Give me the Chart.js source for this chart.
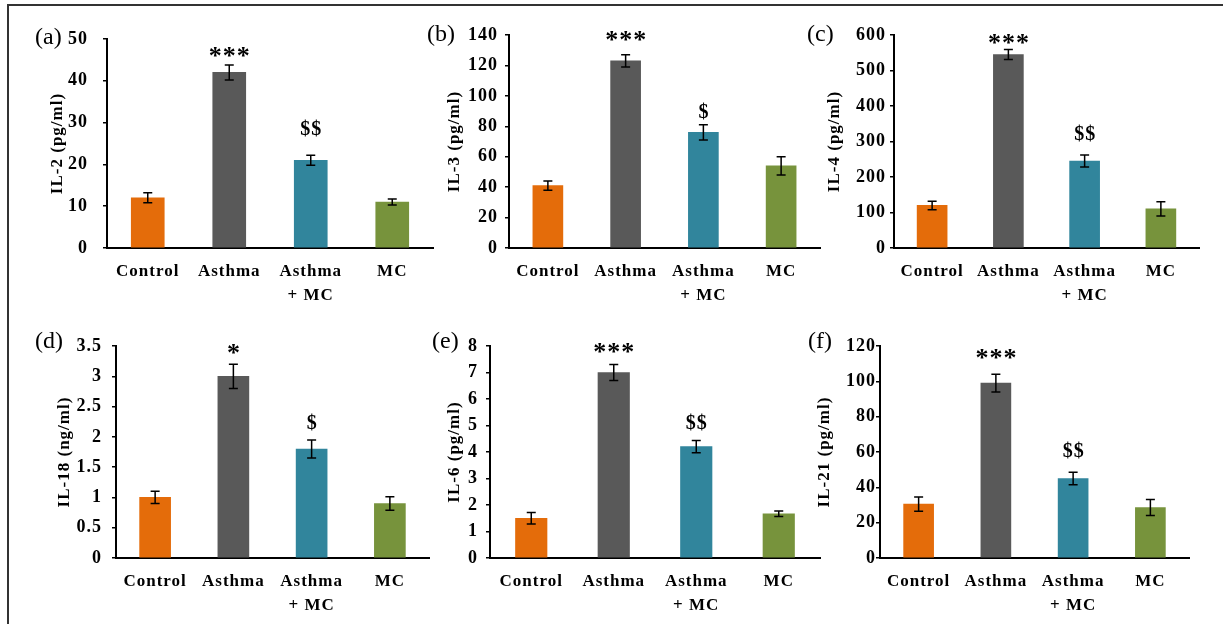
<!DOCTYPE html>
<html>
<head>
<meta charset="utf-8">
<script src="https://cdn.jsdelivr.net/npm/chart.js@4.4.1/dist/chart.umd.min.js"></script>
<style>
html,body{margin:0;padding:0;background:#fff;width:1223px;height:624px;overflow:hidden;position:relative;}
#frame{position:absolute;left:7px;top:4px;width:1240px;height:660px;border-top:2px solid #333;border-left:2px solid #333;}
canvas{position:absolute;}
.plabel{position:absolute;font-family:'Liberation Serif','Times New Roman',serif;font-size:24px;line-height:24px;color:#000;white-space:nowrap;}
</style>
</head>
<body>
<div id="frame"></div>
<script>
// ---- data ----
const categories = ['Control', 'Asthma', ['Asthma', '+ MC'], 'MC'];

const il2Values = [12, 42, 21, 11];
const il2Errors = [1.2, 1.8, 1.2, 0.7];
const il2Marks = ['', '***', '$$', ''];
const il2Ticks = ['0', '10', '20', '30', '40', '50'];

const il3Values = [41, 123, 76, 54];
const il3Errors = [3, 4, 5, 6];
const il3Marks = ['', '***', '$', ''];
const il3Ticks = ['0', '20', '40', '60', '80', '100', '120', '140'];

const il4Values = [120, 545, 245, 110];
const il4Errors = [12, 14, 17, 20];
const il4Marks = ['', '***', '$$', ''];
const il4Ticks = ['0', '100', '200', '300', '400', '500', '600'];

const il18Values = [1.0, 3.0, 1.8, 0.9];
const il18Errors = [0.1, 0.2, 0.15, 0.11];
const il18Marks = ['', '*', '$', ''];
const il18Ticks = ['0', '0.5', '1', '1.5', '2', '2.5', '3', '3.5'];

const il6Values = [1.5, 7.0, 4.2, 1.67];
const il6Errors = [0.22, 0.3, 0.23, 0.1];
const il6Marks = ['', '***', '$$', ''];
const il6Ticks = ['0', '1', '2', '3', '4', '5', '6', '7', '8'];

const il21Values = [30.5, 99, 45, 28.6];
const il21Errors = [4, 5, 3.6, 4.5];
const il21Marks = ['', '***', '$$', ''];
const il21Ticks = ['0', '20', '40', '60', '80', '100', '120'];

// ---- styles / layout ----
const barColors = ['#E46C0A', '#595959', '#31859C', '#77933C'];
const FONT = "'Liberation Serif', 'Times New Roman', serif";

const panels = [
  {label:'(a)', title:'IL-2 (pg/ml)', values:il2Values, errors:il2Errors, marks:il2Marks, ticks:il2Ticks, max:50, step:10,
   L:107, T:39, R:433, B:248, titleX:57, tickPad:15, bar:33, gaps:[0,13,27,0], lx:35, ly:23.5},
  {label:'(b)', title:'IL-3 (pg/ml)', values:il3Values, errors:il3Errors, marks:il3Marks, ticks:il3Ticks, max:140, step:20,
   L:509, T:35, R:820, B:248, titleX:454, tickPad:7, bar:30, gaps:[0,19,13,0], lx:427, ly:20.5},
  {label:'(c)', title:'IL-4 (pg/ml)', values:il4Values, errors:il4Errors, marks:il4Marks, ticks:il4Ticks, max:600, step:100,
   L:894, T:35, R:1199, B:248, titleX:834, tickPad:4, bar:30, gaps:[0,11,22,0], lx:807, ly:20.5},
  {label:'(d)', title:'IL-18 (ng/ml)', values:il18Values, errors:il18Errors, marks:il18Marks, ticks:il18Ticks, max:3.5, step:0.5,
   L:116, T:346, R:429, B:558, titleX:64, tickPad:10, bar:31, gaps:[0,16,17,0], lx:35, ly:327.5},
  {label:'(e)', title:'IL-6 (pg/ml)', values:il6Values, errors:il6Errors, marks:il6Marks, ticks:il6Ticks, max:8, step:1,
   L:490, T:346, R:820, B:558, titleX:454, tickPad:8, bar:31.5, gaps:[0,17,18,0], lx:432, ly:327.5},
  {label:'(f)', title:'IL-21 (pg/ml)', values:il21Values, errors:il21Errors, marks:il21Marks, ticks:il21Ticks, max:120, step:20,
   L:880, T:346, R:1189, B:558, titleX:824, tickPad:0, bar:30, gaps:[0,21,22,0], lx:808, ly:327.5}
];

const PAD_TOP = 40, PAD_RIGHT = 20, X_H = 70;

panels.forEach((p, idx) => {
  const cl = Math.round(p.titleX - 10.2);
  const ct = p.T - PAD_TOP;
  const w = p.R + PAD_RIGHT - cl;
  const h = (p.B - p.T) + PAD_TOP + X_H;
  const cv = document.createElement('canvas');
  cv.width = w; cv.height = h;
  cv.style.left = cl + 'px'; cv.style.top = ct + 'px';
  cv.style.width = w + 'px'; cv.style.height = h + 'px';
  document.body.appendChild(cv);

  const lab = document.createElement('div');
  lab.className = 'plabel';
  lab.textContent = p.label;
  lab.style.left = p.lx + 'px'; lab.style.top = p.ly + 'px';
  document.body.appendChild(lab);

  const extras = {
    id: 'extras' + idx,
    beforeLayout(chart) { chart.ctx.letterSpacing = '1px'; },
    beforeDraw(chart) { chart.ctx.letterSpacing = '1px'; },
    afterDatasetsDraw(chart) {
      const ctx = chart.ctx;
      const ys = chart.scales.y;
      const meta = chart.getDatasetMeta(0);
      ctx.save();
      ctx.strokeStyle = '#000';
      ctx.lineWidth = 1.5;
      meta.data.forEach((bar, i) => {
        const x = bar.x;
        const top = ys.getPixelForValue(p.values[i] + p.errors[i]);
        const bot = ys.getPixelForValue(p.values[i] - p.errors[i]);
        ctx.beginPath();
        ctx.moveTo(x, top); ctx.lineTo(x, bot);
        ctx.moveTo(x - 4.5, top); ctx.lineTo(x + 4.5, top);
        ctx.moveTo(x - 4.5, bot); ctx.lineTo(x + 4.5, bot);
        ctx.stroke();
        const m = p.marks[i];
        if (m) {
          const star = m[0] === '*';
          const size = star ? 26 : 20;
          ctx.font = 'bold ' + size + 'px ' + FONT;
          ctx.fillStyle = '#000';
          ctx.textAlign = 'center';
          ctx.textBaseline = 'alphabetic';
          ctx.letterSpacing = '1px';
          const cy = top - p.gaps[i];
          ctx.fillText(m, x + 0.5, cy + (star ? 0.48 : 0.33) * size);
        }
      });
      ctx.restore();
    }
  };

  new Chart(cv, {
    type: 'bar',
    data: {
      labels: categories,
      datasets: [{
        data: p.values,
        backgroundColor: barColors,
        borderWidth: 0,
        barThickness: p.bar
      }]
    },
    options: {
      responsive: false,
      animation: false,
      devicePixelRatio: 1,
      layout: { padding: { top: PAD_TOP, right: PAD_RIGHT, bottom: 0, left: 0 } },
      plugins: { legend: { display: false }, tooltip: { enabled: false }, title: { display: false } },
      scales: {
        x: {
          ticks: { color: '#000', font: { family: FONT, size: 17, weight: 'bold', lineHeight: 24 / 17 },
                   padding: 12, maxRotation: 0, autoSkip: false },
          grid: { display: false, drawTicks: false },
          border: { display: true, color: '#000', width: 2 },
          afterFit: s => { s.height = X_H; }
        },
        y: {
          min: 0, max: p.max,
          ticks: { stepSize: p.step, color: '#000', padding: p.tickPad,
                   font: { family: FONT, size: 18, weight: 'bold' },
                   callback: (v, i) => p.ticks[i] },
          grid: { display: true, drawOnChartArea: false, drawTicks: true, tickLength: 4, color: '#000', lineWidth: 1.5 },
          border: { display: true, color: '#000', width: 2 },
          title: { display: true, text: p.title, color: '#000', padding: 0,
                   font: { family: FONT, size: 17, weight: 'bold' } },
          afterFit: s => { s.width = p.L - cl; }
        }
      }
    },
    plugins: [extras]
  });
});
</script>
</body>
</html>
